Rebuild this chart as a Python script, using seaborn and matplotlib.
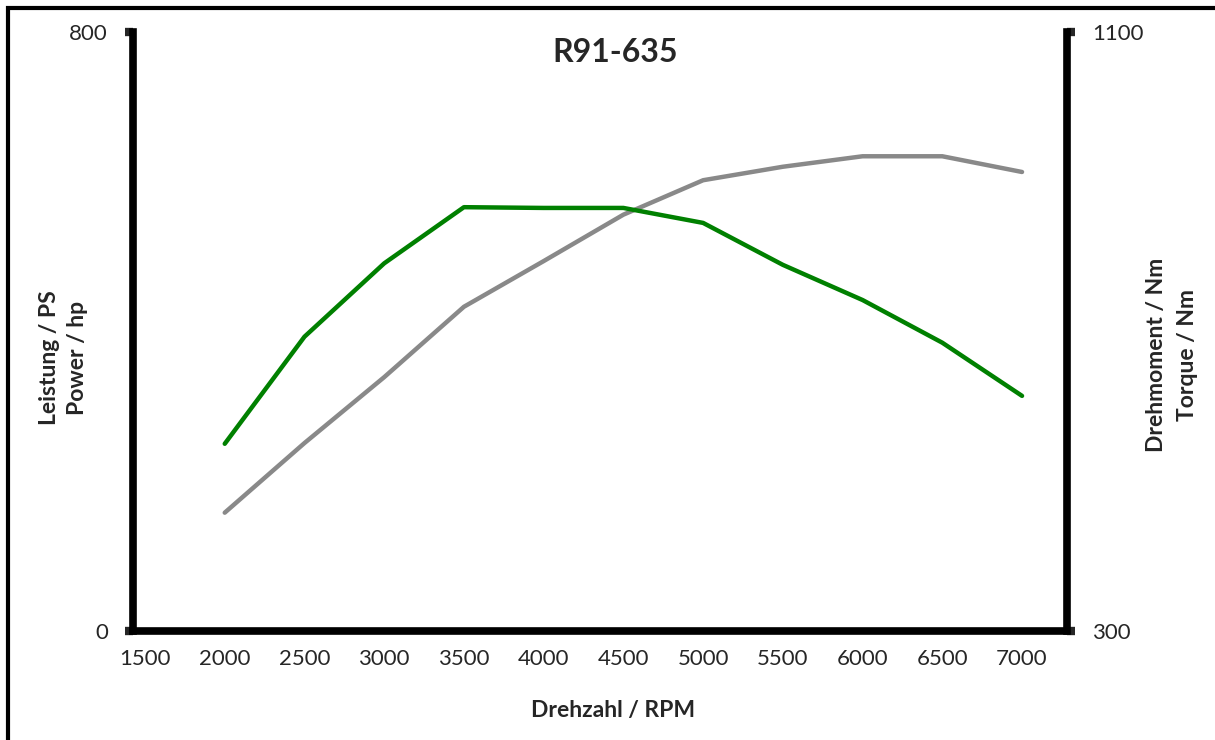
import matplotlib
matplotlib.use("Agg")
import matplotlib.pyplot as plt
import seaborn as sns
import pandas as pd
from matplotlib.patches import Rectangle

# engine curve
rpm = [2000, 2500, 3000, 3500, 4000, 4500, 5000, 5500, 6000, 6500, 7000]
power_ps = [158, 251, 339, 433, 494, 556, 602, 620, 634, 634, 613]
torque_nm = [550, 693, 791, 866, 865, 865, 845, 789, 742, 685, 614]
xtick_labels = [1500, 2000, 2500, 3000, 3500, 4000, 4500, 5000, 5500, 6000, 6500, 7000]

sns.set_style("white")
plt.rcParams['font.family'] = ['Lato', 'DejaVu Sans']

df = pd.DataFrame({'rpm': rpm, 'power': power_ps, 'torque': torque_nm})

W, H = 1215, 740
fig = plt.figure(figsize=(W / 100, H / 100), dpi=100)
ax = fig.add_axes([0.1095, 0.1473, 0.7687, 0.8095])
ax2 = ax.twinx()

sns.lineplot(data=df, x='rpm', y='power', ax=ax, color='#898989', linewidth=3.2)
sns.lineplot(data=df, x='rpm', y='torque', ax=ax2, color='#008000', linewidth=3.2)

ax.set_xlim(1425, 7282)
ax.set_ylim(0, 800)
ax2.set_ylim(300, 1100)

ax.set_xticks(xtick_labels)
ax.set_xticklabels([str(v) for v in xtick_labels], fontsize=16)
ax.set_yticks([0, 800])
ax.set_yticklabels(['0', '800'], fontsize=16)
ax2.set_yticks([300, 1100])
ax2.set_yticklabels(['300', '1100'], fontsize=16)

ax.tick_params(axis='x', length=0, pad=13)
ax.tick_params(axis='y', length=6, width=6, pad=12)
ax2.tick_params(axis='y', length=6, width=6, pad=12)

for a in (ax, ax2):
    for side in ('left', 'right', 'bottom'):
        a.spines[side].set_linewidth(5.5)
        a.spines[side].set_color('black')
    a.spines['top'].set_visible(False)
ax.spines['right'].set_visible(False)
ax2.spines['left'].set_visible(False)
ax2.spines['bottom'].set_visible(False)
ax.set_xlabel('')
ax.set_ylabel('')
ax2.set_ylabel('')

lab = dict(fontsize=16.5, fontweight='bold', rotation=90, ha='center', va='center')
fig.text(50 / W, 1 - 358 / H, 'Leistung / PS', **lab)
fig.text(78 / W, 1 - 358 / H, 'Power / hp', **lab)
fig.text(1157 / W, 1 - 355 / H, 'Drehmoment / Nm', **lab)
fig.text(1187 / W, 1 - 355 / H, 'Torque / Nm', **lab)
fig.text(613 / W, 1 - 710 / H, 'Drehzahl / RPM', fontsize=16.5, fontweight='bold', ha='center', va='center')
fig.text(615 / W, 1 - 52 / H, 'R91-635', ha='center', va='center', fontsize=23, fontweight='bold')

# outer frame
fig.patches.append(Rectangle((8 / W, -0.1), 1.2, 1 - 8 / H + 0.1, transform=fig.transFigure,
                             fill=False, edgecolor='black', linewidth=3, clip_on=False))

fig.savefig('out.png', dpi=100)
